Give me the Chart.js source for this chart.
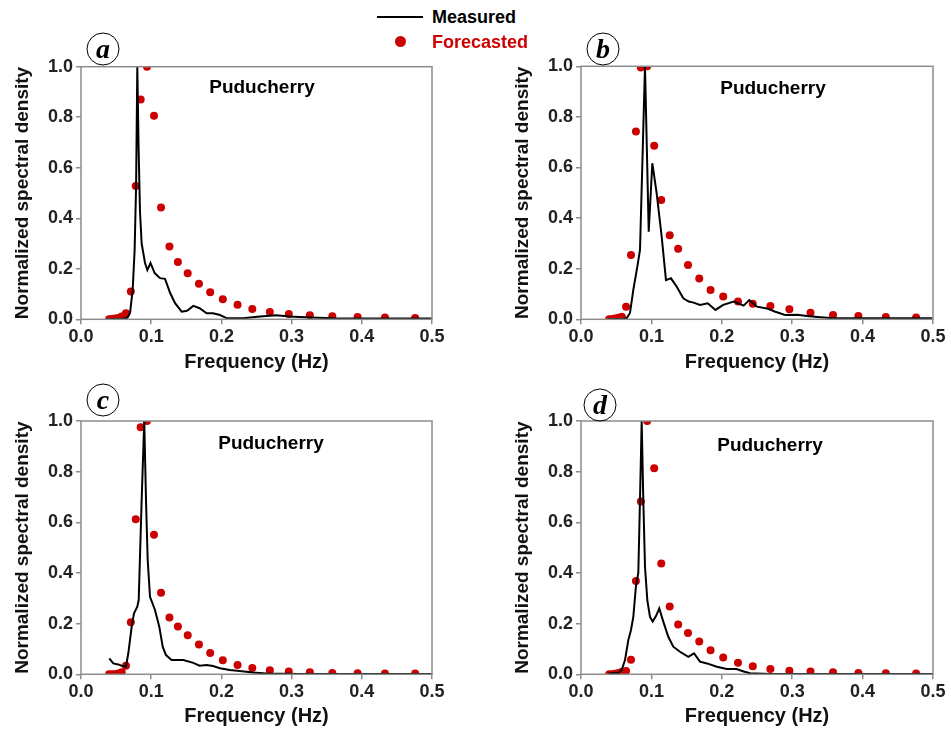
<!DOCTYPE html>
<html>
<head>
<meta charset="utf-8">
<script src="https://cdn.jsdelivr.net/npm/chart.js@4.4.1/dist/chart.umd.min.js"></script>
<style>
  body { margin: 0; background: #fff; width: 951px; height: 729px; position: relative; overflow: hidden;
         font-family: "Liberation Sans", Arial, sans-serif; }
  canvas { position: absolute; }
  .lbl { position: absolute; font-weight: bold; white-space: nowrap; transform: translate(-50%, -50%); }
  .circ { position: absolute; width: 31px; height: 31px; border: 1.5px solid #000; border-radius: 50%;
          transform: translate(-50%, -50%); text-align: center; line-height: 29px;
          font-family: "Liberation Serif", "DejaVu Serif", serif; font-style: italic; font-weight: bold; font-size: 28px; }
</style>
</head>
<body>
<canvas id="chart-a" width="470" height="345" style="left:0px;top:30px;width:470px;height:345px"></canvas>
<canvas id="chart-b" width="451" height="345" style="left:500px;top:30px;width:451px;height:345px"></canvas>
<canvas id="chart-c" width="470" height="344" style="left:0px;top:385px;width:470px;height:344px"></canvas>
<canvas id="chart-d" width="451" height="344" style="left:500px;top:385px;width:451px;height:344px"></canvas>

<!-- legend -->
<div style="position:absolute;left:377px;top:16px;width:46px;height:2px;background:#000"></div>
<div class="lbl" style="left:474px;top:17px;font-size:18px;color:#000">Measured</div>
<div style="position:absolute;left:395px;top:36px;width:11px;height:11px;border-radius:50%;background:#cc0000"></div>
<div class="lbl" style="left:480px;top:42px;font-size:18px;color:#cc0000">Forecasted</div>

<div class="circ" style="left:103px;top:49px">a</div>
<div class="circ" style="left:603px;top:49px">b</div>
<div class="circ" style="left:103px;top:400px">c</div>
<div class="circ" style="left:600px;top:405px">d</div>

<div class="lbl" style="left:262px;top:87px;font-size:19px">Puducherry</div>
<div class="lbl" style="left:773px;top:88px;font-size:19px">Puducherry</div>
<div class="lbl" style="left:271px;top:443px;font-size:19px">Puducherry</div>
<div class="lbl" style="left:770px;top:445px;font-size:19px">Puducherry</div>

<script>
// forecast frequency bins (Hz), shared by all four panels
const FREQ_FCST = [0.040, 0.044, 0.048, 0.053, 0.058, 0.064, 0.071, 0.078, 0.085, 0.094, 0.104, 0.114, 0.126, 0.138,
  0.152, 0.168, 0.184, 0.202, 0.223, 0.244, 0.269, 0.296, 0.326, 0.358, 0.394, 0.433, 0.476]

const FCST_A = [0.000, 0.001, 0.003, 0.005, 0.011, 0.024, 0.110, 0.528, 0.870, 1.000, 0.806, 0.443, 0.288, 0.227,
  0.182, 0.141, 0.107, 0.079, 0.058, 0.041, 0.029, 0.021, 0.016, 0.012, 0.009, 0.007, 0.005]
const FCST_B = [0.000, 0.000, 0.003, 0.006, 0.010, 0.050, 0.254, 0.742, 0.995, 1.000, 0.686, 0.472, 0.332, 0.279,
  0.215, 0.161, 0.116, 0.090, 0.070, 0.061, 0.053, 0.040, 0.026, 0.017, 0.013, 0.009, 0.007]
const FCST_C = [0.000, 0.000, 0.000, 0.003, 0.008, 0.034, 0.205, 0.612, 0.975, 1.000, 0.551, 0.322, 0.224, 0.189,
  0.154, 0.118, 0.084, 0.055, 0.037, 0.025, 0.016, 0.011, 0.008, 0.005, 0.004, 0.003, 0.003]
const FCST_D = [0.000, 0.000, 0.002, 0.005, 0.010, 0.013, 0.057, 0.368, 0.682, 1.000, 0.813, 0.437, 0.268, 0.197,
  0.163, 0.129, 0.095, 0.066, 0.046, 0.032, 0.021, 0.014, 0.011, 0.008, 0.005, 0.004, 0.003]

// measured spectra
const MEAS_A_F = [0.037, 0.060, 0.066, 0.0698, 0.0736, 0.0764, 0.0785, 0.0802, 0.0821, 0.084, 0.0864, 0.0912, 0.0945,
  0.099, 0.105, 0.1125, 0.1197, 0.127, 0.134, 0.1434, 0.151, 0.160, 0.169, 0.179, 0.188, 0.198, 0.208, 0.231, 0.255,
  0.278, 0.297, 0.326, 0.359, 0.500]
const MEAS_A_S = [0.000, 0.002, 0.006, 0.024, 0.116, 0.274, 0.530, 1.000, 0.670, 0.430, 0.300, 0.223, 0.195,
  0.223, 0.183, 0.163, 0.160, 0.104, 0.064, 0.030, 0.034, 0.053, 0.044, 0.024, 0.024, 0.017, 0.004, 0.004, 0.011,
  0.016, 0.011, 0.007, 0.004, 0.003]

const MEAS_B_F = [0.039, 0.060, 0.065, 0.0696, 0.0743, 0.080, 0.0838, 0.0909, 0.0962, 0.1013, 0.1075, 0.1146, 0.1207,
  0.1278, 0.136, 0.1453, 0.153, 0.160, 0.169, 0.180, 0.191, 0.202, 0.217, 0.231, 0.239, 0.250, 0.264, 0.276, 0.290,
  0.307, 0.321, 0.340, 0.359, 0.387, 0.435, 0.499]
const MEAS_B_S = [0.000, 0.002, 0.005, 0.025, 0.116, 0.208, 0.274, 1.000, 0.346, 0.617, 0.498, 0.327, 0.155,
  0.162, 0.129, 0.083, 0.070, 0.066, 0.057, 0.063, 0.037, 0.057, 0.070, 0.054, 0.076, 0.050, 0.043, 0.030, 0.017,
  0.018, 0.013, 0.008, 0.004, 0.004, 0.004, 0.004]

const MEAS_C_F = [0.0403, 0.046, 0.053, 0.058, 0.064, 0.0674, 0.0722, 0.0755, 0.0802, 0.0822, 0.0864, 0.0901, 0.0926,
  0.095, 0.0983, 0.1054, 0.1115, 0.1164, 0.121, 0.129, 0.1457, 0.160, 0.169, 0.179, 0.188, 0.198, 0.212, 0.226, 0.245,
  0.264, 0.312, 0.500]
const MEAS_C_S = [0.063, 0.043, 0.039, 0.034, 0.030, 0.083, 0.188, 0.241, 0.267, 0.293, 0.688, 1.000, 0.688,
  0.451, 0.306, 0.254, 0.188, 0.109, 0.076, 0.056, 0.056, 0.045, 0.034, 0.037, 0.033, 0.024, 0.017, 0.013, 0.007,
  0.003, 0.001, 0.001]

const MEAS_D_F = [0.039, 0.053, 0.0578, 0.0625, 0.0672, 0.071, 0.0743, 0.078, 0.0814, 0.0838, 0.0862, 0.0885, 0.0909,
  0.0942, 0.098, 0.1018, 0.1065, 0.1112, 0.1169, 0.124, 0.1311, 0.1406, 0.1524, 0.1605, 0.169, 0.179, 0.193, 0.207,
  0.221, 0.231, 0.240, 0.269, 0.500]
const MEAS_D_S = [0.003, 0.005, 0.017, 0.056, 0.135, 0.175, 0.227, 0.346, 0.400, 0.688, 1.000, 0.688, 0.425,
  0.293, 0.227, 0.208, 0.230, 0.260, 0.208, 0.148, 0.109, 0.089, 0.069, 0.083, 0.050, 0.043, 0.030, 0.021,
  0.021, 0.011, 0.004, 0.001, 0.001]

const X_TICKS = [0.0, 0.1, 0.2, 0.3, 0.4, 0.5]
const Y_TICKS = [0.0, 0.2, 0.4, 0.6, 0.8, 1.0]

const RED = "#cc0000"
const FONT = "'Liberation Sans', Arial, sans-serif"

// grey box round the plot area
const frame = {
  id: "frame",
  afterDraw(chart) {
    const a = chart.chartArea
    const ctx = chart.ctx
    ctx.save()
    ctx.strokeStyle = "#8c8c8c"
    ctx.lineWidth = 1.5
    ctx.strokeRect(a.left, a.top, a.right - a.left, a.bottom - a.top)
    ctx.restore()
  }
}

function toXY(xs, ys) {
  return xs.map((x, i) => ({ x: x, y: ys[i] }))
}

function panel(id, measF, measS, fcst, padTop, padRight, xHeight) {
  const ctx = document.getElementById(id).getContext("2d")
  return new Chart(ctx, {
    type: "scatter",
    data: {
      datasets: [
        {
          label: "Measured",
          data: toXY(measF, measS),
          showLine: true,
          borderColor: "#000",
          borderWidth: 2,
          pointRadius: 0,
          tension: 0,
          clip: 0
        },
        {
          label: "Forecasted",
          data: toXY(FREQ_FCST, fcst),
          showLine: false,
          backgroundColor: RED,
          borderColor: RED,
          borderWidth: 0,
          pointRadius: 4,
          clip: 0
        }
      ]
    },
    options: {
      responsive: false,
      animation: false,
      devicePixelRatio: 1,
      layout: { padding: { top: padTop, right: padRight, bottom: 0, left: 0 } },
      plugins: { legend: { display: false }, tooltip: { enabled: false } },
      scales: {
        x: {
          type: "linear",
          min: 0, max: 0.5,
          afterBuildTicks: (s) => { s.ticks = X_TICKS.map(v => ({ value: v })) },
          afterFit: (s) => { s.height = xHeight },
          border: { display: false },
          grid: { drawOnChartArea: false, drawTicks: true, tickLength: 5, color: "#8c8c8c", lineWidth: 1.5 },
          ticks: {
            padding: 2,
            color: "#222",
            font: { family: FONT, size: 18, weight: "bold" },
            callback: (v) => Number(v).toFixed(1),
            maxRotation: 0
          },
          title: {
            display: true,
            text: "Frequency (Hz)",
            color: "#111",
            padding: { top: 0, bottom: 1 },
            font: { family: FONT, size: 20, weight: "bold" }
          }
        },
        y: {
          type: "linear",
          min: 0, max: 1,
          afterBuildTicks: (s) => { s.ticks = Y_TICKS.map(v => ({ value: v })) },
          afterFit: (s) => { s.width = 81 },
          border: { display: false },
          grid: { drawOnChartArea: false, drawTicks: true, tickLength: 5, color: "#8c8c8c", lineWidth: 1.5 },
          ticks: {
            padding: 3,
            color: "#222",
            font: { family: FONT, size: 18, weight: "bold" },
            callback: (v) => Number(v).toFixed(1)
          },
          title: {
            display: true,
            text: "Normalized spectral density",
            color: "#111",
            padding: { top: 11, bottom: 0 },
            font: { family: FONT, size: 19, weight: "bold" }
          }
        }
      }
    },
    plugins: [frame]
  })
}

panel("chart-a", MEAS_A_F, MEAS_A_S, FCST_A, 36.7, 38, 55.7)
panel("chart-b", MEAS_B_F, MEAS_B_S, FCST_B, 36.3, 18, 55.7)
panel("chart-c", MEAS_C_F, MEAS_C_S, FCST_C, 36, 38, 54.7)
panel("chart-d", MEAS_D_F, MEAS_D_S, FCST_D, 36, 18, 54.7)
</script>
</body>
</html>
